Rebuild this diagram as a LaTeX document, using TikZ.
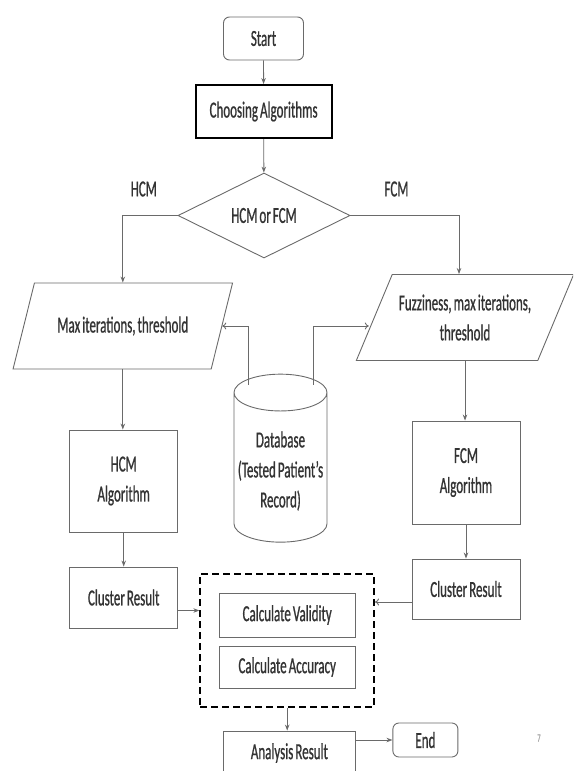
\documentclass[tikz,border=0pt]{standalone}
\usepackage{fontspec}
\setmainfont{Carlito}[FakeStretch=0.565,WordSpace=0.7,FakeBold=0.8]
\usepackage{tikz}
\usetikzlibrary{shapes.geometric,arrows.meta,positioning,calc,fit}
\definecolor{linegray}{HTML}{6A6A6A}
\definecolor{textgray}{HTML}{333333}

\begin{document}
\begin{tikzpicture}[x=1pt, y=-1pt,
    every node/.style={font=\fontsize{23}{30}\selectfont, text=textgray, align=center},
    box/.style={draw=linegray, line width=0.9pt},
    term/.style={draw=linegray, line width=0.9pt, rounded corners=6pt},
    io/.style={draw=linegray, line width=0.9pt, trapezium, trapezium left angle=57, trapezium right angle=123, trapezium stretches=true, minimum height=86pt},
    arr/.style={draw=linegray, line width=0.9pt, -{Stealth[length=6pt,width=4.5pt]}},
    oarr/.style={draw=linegray, line width=0.9pt, -{To[length=4pt,width=7pt]}}]
    \useasboundingbox (0,0) rectangle (573,771);
    \clip (0,0) rectangle (573,771);

    \node [term, minimum width=80pt, minimum height=43pt] (start) at (263.5,38.5) {Start};
    \node [draw=black, line width=2pt, minimum width=136pt, minimum height=53pt] (choose) at (263.6,111.5) {Choosing Algorithms};
    \node [draw=linegray, line width=0.9pt, diamond, aspect=2, minimum width=172pt, minimum height=85pt, inner sep=0pt] (pick) at (264,215.5) {HCM or FCM};
    \node (hcmlbl) at (143.8,189) {HCM};
    \node (fcmlbl) at (396.5,189) {FCM};

    % inputs
    \node [io, minimum width=220pt] (hcmin) at (122.8,326) {Max iterations, threshold};
    \node [io, minimum width=218pt] (fcmin) at (465,317.5) {Fuzziness, max iterations,\\threshold};

    % database
    \node [draw=linegray, line width=0.9pt, cylinder, shape border rotate=90, aspect=0.4, minimum width=93pt, minimum height=168pt] (db) at (280.5,471) {Database\\(Tested Patient’s\\Record)};

    \node [box, minimum width=108pt, minimum height=102pt] (hcm) at (123.7,481) {HCM\\Algorithm};
    \node [box, minimum width=108pt, minimum height=103pt] (fcm) at (466,472.5) {FCM\\Algorithm};
    \node [box, minimum width=108pt, minimum height=61pt] (hcmres) at (123.7,597.5) {Cluster Result};
    \node [box, minimum width=108pt, minimum height=60pt] (fcmres) at (466,589) {Cluster Result};

    % evaluation
    \node [box, minimum width=136pt, minimum height=44pt] (valid) at (287.2,615) {Calculate Validity};
    \node [box, minimum width=136pt, minimum height=42pt] (acc) at (287.2,667) {Calculate Accuracy};
    \node [draw=black, line width=1.8pt, dash pattern=on 7pt off 4pt, fit=(valid)(acc), inner sep=18.5pt] (eval) {};

    \node [box, minimum width=132pt, minimum height=44pt] (result) at (289.4,753) {Analysis Result};
    \node [term, minimum width=65pt, minimum height=34pt] (end) at (425.4,740) {End};
    \node [font=\fontsize{11}{13}\selectfont, text=black!35] (page) at (539,738) {7};

    \draw [arr] (start) -- (choose);
    \draw [arr] (choose) -- (pick);
    \draw [arr] (pick.west) -| (hcmin.north);
    \draw [arr] (pick.east) -| ([xshift=-6pt]fcmin.north);
    \draw [oarr] ($(db.north)+(-32,11)$) |- (hcmin.east);
    \draw [oarr] ($(db.north)+(33,11)$) |- ($(hcmin.east -| fcmin.west)+(-5,0)$);
    \draw [arr] (hcmin.south) -- (hcmin.south |- hcm.north);
    \draw [arr] (fcmin.south) -- (fcmin.south |- fcm.north);
    \draw [arr] (hcm) -- (hcmres);
    \draw [arr] (fcm) -- (fcmres);
    \draw [arr] ($(hcmres.east)+(0,13)$) -- ($(hcmres.east -| eval.west)+(0,13)$);
    \draw [oarr] ($(fcmres.west)+(0,13)$) -- ($(fcmres.west -| eval.east)+(0,13)$);
    \draw [arr] (eval.south) -- (eval.south |- result.north);
    \draw [arr] (end.west -| result.east) -- (end.west);
\end{tikzpicture}
\end{document}
